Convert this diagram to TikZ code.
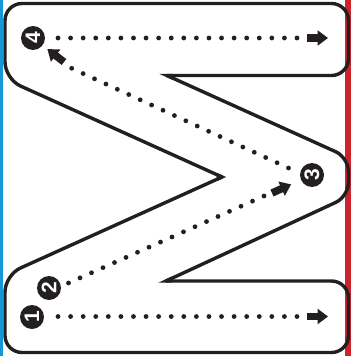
\documentclass[tikz,border=0pt]{standalone}
\usepackage{fontspec}
\setmainfont{Liberation Sans}
\usetikzlibrary{arrows.meta,calc}
\definecolor{ink}{RGB}{35,31,32}
\definecolor{stripeblue}{RGB}{20,150,215}
\definecolor{stripered}{RGB}{205,35,45}
\begin{document}
\begin{tikzpicture}[x=1pt,y=-1pt,
  outline/.style={draw=ink,line width=3.4pt,rounded corners=17pt,line join=round},
  patch/.style={draw=ink,line width=3.4pt,sharp corners,line join=miter},
  num/.style={circle,fill=ink,minimum size=24pt,inner sep=0pt,text=white,rotate=90,
    font=\bfseries\fontsize{21}{21}\selectfont},
  arr/.style={draw=ink,line width=7.5pt,-{Triangle[length=10.5pt,width=15pt]}}]
\useasboundingbox (0,0) rectangle (354,356);
% edge stripes
\fill[stripeblue] (0,0) rectangle (3,356);
\fill[stripered] (345,0) rectangle (351,356);
% outline corners
\coordinate (apex) at (222,177);
\coordinate (cu) at (167,75.5);
\coordinate (cl) at (166,281);
\coordinate (tu) at (348.5,157.5);
\coordinate (tl) at (348.5,196.5);
% outline
\draw[outline] (apex) -- (5,79) -- (5,3.5) -- (348.5,3.5) -- (348.5,75.5) -- (cu);
\draw[outline,rounded corners=14pt] (cu) -- (tu) -- (tl) -- (cl);
\draw[outline] (cl) -- (348.5,281) -- (348.5,352.5) -- (5,352.5) -- (5,275) -- (apex);
% sharp corner joins
\draw[patch] ($(cu)!6pt!(348.5,75.5)$) -- (cu) -- ($(cu)!6pt!(tu)$);
\draw[patch] ($(cl)!6pt!(348.5,281)$) -- (cl) -- ($(cl)!6pt!(tl)$);
\draw[patch] ($(apex)!6pt!(5,79)$) -- (apex) -- ($(apex)!6pt!(5,275)$);
% numbered circles
\node[num] (n1) at (32,317) {1};
\node[num] (n2) at (49,288) {2};
\node[num] (n3) at (312,175) {3};
\node[num] (n4) at (33,38) {4};
% stroke 1
\coordinate (p1s) at (58,316.5);
\coordinate (p1e) at (297,316.5);
\foreach \i in {0,...,19} \fill[ink] ($(p1s)!\i/19!(p1e)$) circle (2.4pt);
\coordinate (a1s) at (307,316.5);
\coordinate (a1e) at (328,316.5);
\draw[arr] (a1s) -- (a1e);
% stroke 2
\coordinate (p2s) at (68.5,283);
\coordinate (p2e) at (264,196);
\foreach \i in {0,...,17} \fill[ink] ($(p2s)!\i/17!(p2e)$) circle (2.4pt);
\coordinate (a2s) at (272,193);
\draw[arr] (a2s) -- ($(a2s)!21pt!(n3)$);
% stroke 3
\coordinate (p3s) at (288.5,168);
\coordinate (p3e) at (71.7,68.3);
\foreach \i in {0,...,19} \fill[ink] ($(p3s)!\i/19!(p3e)$) circle (2.4pt);
\coordinate (a3s) at (64,62);
\draw[arr] (a3s) -- ($(a3s)!21pt!(n4)$);
% stroke 4
\coordinate (p4s) at (58,38);
\coordinate (p4e) at (297,38);
\foreach \i in {0,...,19} \fill[ink] ($(p4s)!\i/19!(p4e)$) circle (2.4pt);
\coordinate (a4s) at (307,38);
\coordinate (a4e) at (328,38);
\draw[arr] (a4s) -- (a4e);
\end{tikzpicture}
\end{document}
